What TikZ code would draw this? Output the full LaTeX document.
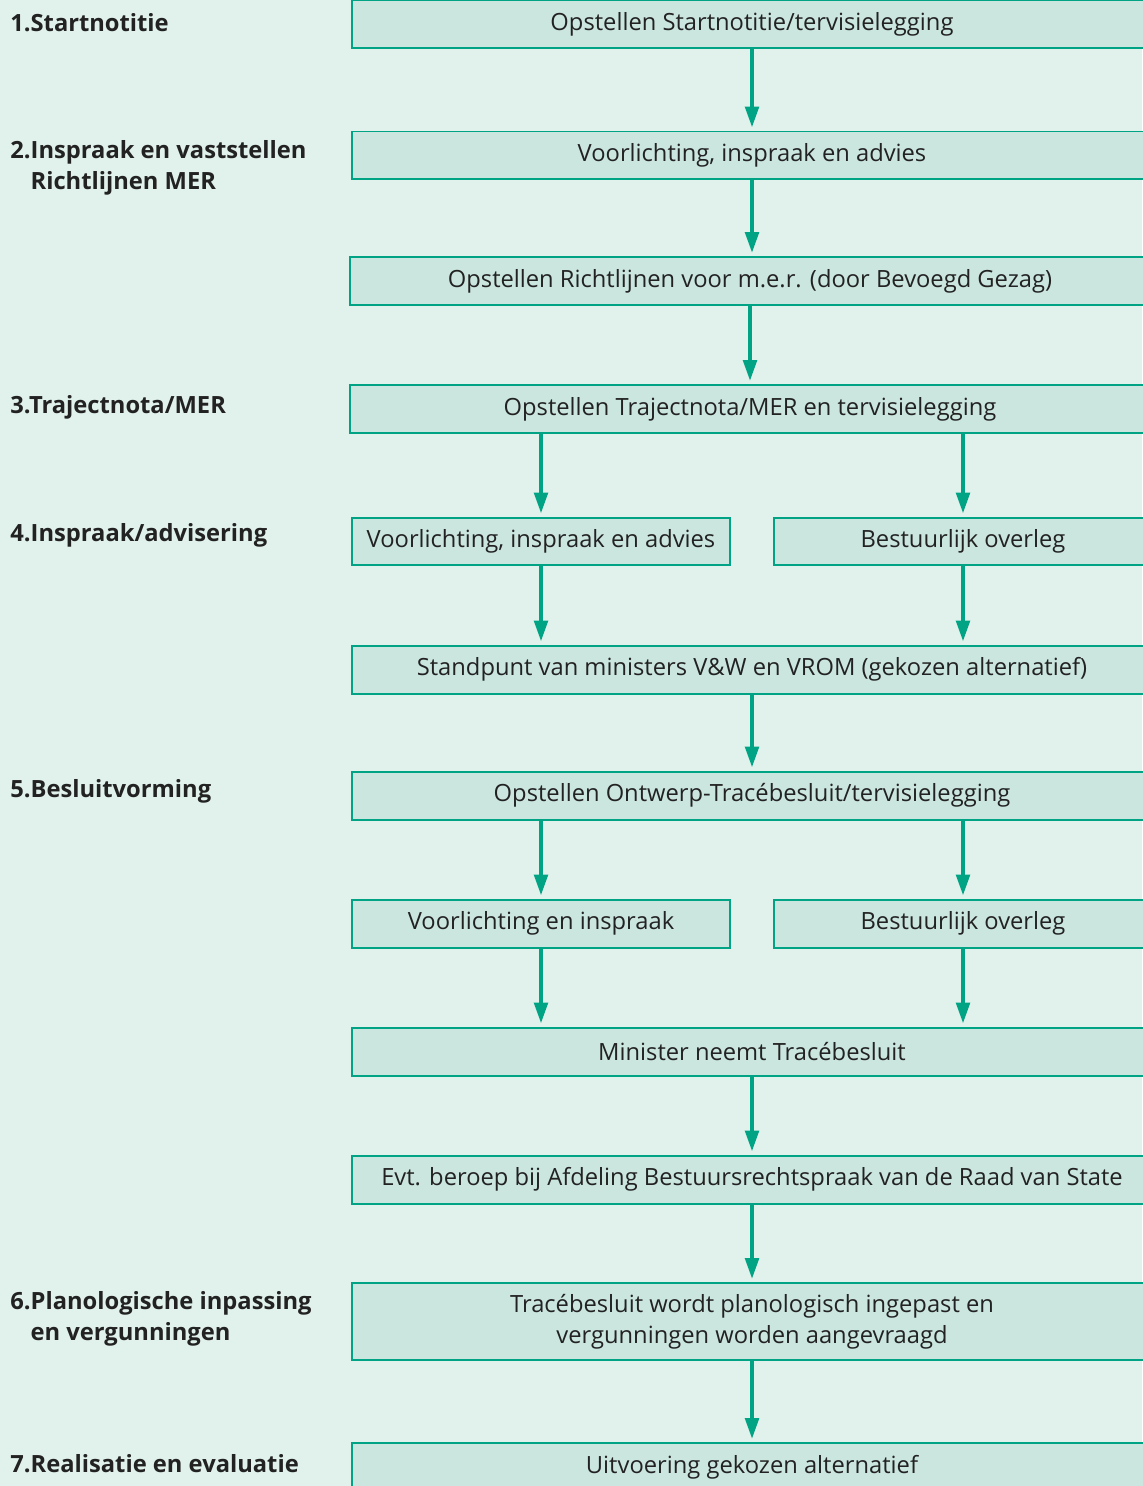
\documentclass[tikz,border=0pt]{standalone}
\usepackage{fontspec}
\setmainfont{Open Sans}
\usetikzlibrary{arrows.meta,positioning,calc}

\definecolor{bgGreen}{HTML}{E1F2EC}
\definecolor{boxGreen}{HTML}{CBE6DF}
\definecolor{lineGreen}{HTML}{00A383}
\definecolor{textGrey}{HTML}{222222}

\begin{document}
\begin{tikzpicture}[
		x=0.02cm, y=-0.02cm,
		every node/.style={text=textGrey, font=\fontsize{13.5}{17.5}\selectfont},
		stepBox/.style={draw=lineGreen, fill=boxGreen, line width=0.04cm, inner sep=0pt, minimum height=0.96cm, align=center},
		wideBox/.style={stepBox, minimum width=16cm},
		halfBox/.style={stepBox, minimum width=7.55cm},
		stageLabel/.style={anchor=west, inner sep=0pt, align=left, font=\fontsize{13.5}{17.5}\selectfont\bfseries},
		flowarrow/.style={draw=lineGreen, line width=0.08cm, shorten >=0.06cm, -{Triangle[length=0.42cm, width=0.27cm]}}
	]

	% background and page size
	\fill[bgGreen] (0,0) rectangle (1142,1486);
	\useasboundingbox (0,0) rectangle (1142,1486);

	% phases on the left
	\node[stageLabel] (L1) at (10,23) {1.Startnotitie};
	\node[stageLabel] (L2) at (10,168) {2.Inspraak en vaststellen\\\phantom{2.}Richtlijnen MER};
	\node[stageLabel] (L3) at (10,407) {3.Trajectnota/MER};
	\node[stageLabel] (L4) at (10,535) {4.Inspraak/advisering};
	\node[stageLabel] (L5) at (10,791) {5.Besluitvorming};
	\node[stageLabel] (L6) at (10,1319) {6.Planologische inpassing\\\phantom{6.}en vergunningen};
	\node[stageLabel] (L7) at (10,1464) {7.Realisatie en evaluatie};

	% steps
	\node[wideBox] (S1) at (752,24.5) {Opstellen Startnotitie/tervisielegging};
	\node[wideBox] (S2) at (752,155.5) {Voorlichting, inspraak en advies};
	\node[wideBox] (S3) at (750,281) {Opstellen Richtlijnen voor m.e.r. (door Bevoegd Gezag)};
	\node[wideBox] (S4) at (750,409) {Opstellen Trajectnota/MER en tervisielegging};
	\node[halfBox] (S5a) at (541,541.5) {Voorlichting, inspraak en advies};
	\node[halfBox] (S5b) at (963,541.5) {Bestuurlijk overleg};
	\node[wideBox] (S6) at (752,669.5) {Standpunt van ministers V\&W en VROM (gekozen alternatief)};
	\node[wideBox] (S7) at (752,795.5) {Opstellen Ontwerp-Tracébesluit/tervisielegging};
	\node[halfBox] (S8a) at (541,923.5) {Voorlichting en inspraak};
	\node[halfBox] (S8b) at (963,923.5) {Bestuurlijk overleg};
	\node[wideBox] (S9) at (752,1051.5) {Minister neemt Tracébesluit};
	\node[wideBox] (S10) at (752,1179.5) {Evt. beroep bij Afdeling Bestuursrechtspraak van de Raad van State};
	\node[wideBox, minimum height=1.54cm] (S11) at (752,1321.5) {Tracébesluit wordt planologisch ingepast en\\vergunningen worden aangevraagd};
	\node[wideBox] (S12) at (752,1467) {Uitvoering gekozen alternatief};

	% arrows
	\draw[flowarrow] (S1.south) -- (S2.north);
	\draw[flowarrow] (S2.south) -- (S3.north -| S2.south);
	\draw[flowarrow] (S3.south) -- (S4.north);
	\draw[flowarrow] (S4.south -| S5a.north) -- (S5a.north);
	\draw[flowarrow] (S4.south -| S5b.north) -- (S5b.north);
	\draw[flowarrow] (S5a.south) -- (S6.north -| S5a.south);
	\draw[flowarrow] (S5b.south) -- (S6.north -| S5b.south);
	\draw[flowarrow] (S6.south) -- (S7.north);
	\draw[flowarrow] (S7.south -| S8a.north) -- (S8a.north);
	\draw[flowarrow] (S7.south -| S8b.north) -- (S8b.north);
	\draw[flowarrow] (S8a.south) -- (S9.north -| S8a.south);
	\draw[flowarrow] (S8b.south) -- (S9.north -| S8b.south);
	\draw[flowarrow] (S9.south) -- (S10.north);
	\draw[flowarrow] (S10.south) -- (S11.north);
	\draw[flowarrow] (S11.south) -- (S12.north);
\end{tikzpicture}
\end{document}
